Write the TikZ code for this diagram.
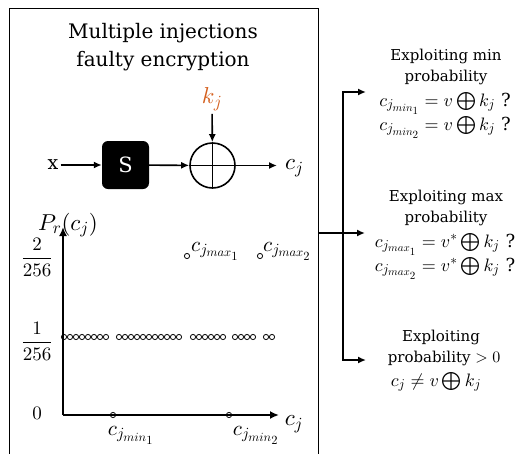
\documentclass[tikz,border=0pt]{standalone}
\usepackage{fontspec}
\setmainfont{DejaVu Serif}
\usetikzlibrary{arrows.meta}
\DeclareFontShape{OML}{cmm}{m}{it}{<->cmmi10}{}
\DeclareFontShape{OMS}{cmsy}{m}{n}{<->cmsy10}{}
\DeclareFontShape{OMX}{cmex}{m}{n}{<->cmex10}{}
\DeclareFontShape{OT1}{cmr}{m}{n}{<->cmr10}{}
\DeclareMathSizes{23}{23}{17}{13}
\DeclareMathSizes{21}{21}{15.5}{12.5}
\DeclareMathSizes{19}{19}{14}{11}
\DeclareMathSizes{18}{18}{13.5}{11}
\DeclareMathSizes{15}{16}{12}{10}
\definecolor{kor}{RGB}{212,94,28}
\tikzset{
  arr/.style={line width=1.6pt,-{Latex[length=8pt,width=7pt]}},
  axis/.style={line width=1.8pt,-{Latex[length=9pt,width=8pt]}},
  pt/.style={circle,draw,line width=0.8pt,inner sep=0pt,minimum size=5.2pt},
  ttl/.style={font=\fontsize{20}{28}\selectfont},
  big/.style={font=\fontsize{23}{26}\selectfont},
  lab/.style={font=\fontsize{21}{24}\selectfont},
  mid/.style={font=\fontsize{19}{22}\selectfont},
  rt/.style={font=\fontsize{15}{18}\selectfont,anchor=base,inner sep=0pt},
  rm/.style={font=\fontsize{18}{20}\selectfont,anchor=base,inner sep=0pt},
}
\begin{document}
\begin{tikzpicture}[x=1pt,y=-1pt]
\useasboundingbox (0,0) rectangle (517,453);
% main box
\draw[line width=1pt] (9,470) -- (9,8) -- (318,8) -- (318,470);
\node[ttl,align=center] (title) at (163,47) {Multiple injections\\faulty encryption};
% cipher
\node[big,text=kor] (kj) at (212,99) {$k_j$};
\node[fill=black,rounded corners=6pt,minimum width=47pt,minimum height=48pt,text=white,font=\fontsize{21}{24}\selectfont,inner sep=0pt] (S) at (125.5,165) {S};
\node[circle,draw,line width=1.6pt,minimum size=45pt,inner sep=0pt] (xor) at (212.5,165.5) {};
\draw[line width=1.6pt] (xor.north) -- (xor.south) (xor.west) -- (xor.east);
\node[mid,inner sep=2pt] (x) at (53,165) {x};
\node[big,inner sep=2pt,anchor=west] (cj) at (283,168) {$c_j$};
\draw[arr] (x) -- (S);
\draw[arr] (S) -- (xor);
\draw[arr] (xor.east) -- ([xshift=-6pt]cj.west |- xor.east);
\draw[arr] (kj) -- (xor);
% plot
\coordinate (O) at (63,415);
\coordinate (ytip) at (63,227);
\coordinate (xtip) at (279,415);
\draw[axis] (O) -- (ytip);
\draw[axis] (O) -- (xtip);
\node[big] (P) at (68,225) {$P_r(c_j)$};
\node[mid] (f2) at (37,257) {$\displaystyle\frac{2}{256}$};
\node[mid] (f1) at (37,341) {$\displaystyle\frac{1}{256}$};
\node[mid] (f0) at (37,413) {$0$};
\foreach \s/\n in {64/8,119/11,193/6,235/4,266/2}{
  \foreach \i in {1,...,\n}{
    \node[pt] at ({\s+6*(\i-1)},337) {};
  }
}
\node[pt] (mx1) at (187,256) {};
\node[pt] (mx2) at (260,256) {};
\node[pt] (mn1) at (113,415) {};
\node[pt] (mn2) at (229,415) {};
\node[lab,anchor=base west,inner sep=0pt] (lmx1) at (191,251) {$c_{j_{max_1}}$};
\node[lab,anchor=base west,inner sep=0pt] (lmx2) at (263,251) {$c_{j_{max_2}}$};
\node[lab,anchor=base,inner sep=0pt] (lmn1) at (131,435) {$c_{j_{min_1}}$};
\node[lab,anchor=base,inner sep=0pt] (lmn2) at (256,435) {$c_{j_{min_2}}$};
\node[big] (cjx) at (294,424) {$c_j$};
% right side
\coordinate (bR) at (318,233);
\coordinate (sp) at (343,233);
\coordinate (sT) at (343,92);
\coordinate (sB) at (343,360);
\coordinate (eM) at (365,233);
\coordinate (eT) at (366,92);
\coordinate (eB) at (366,360);
\draw[arr] (bR) -- (eM);
\draw[line width=1.6pt] (sT) -- (sB);
\draw[arr] ([xshift=-0.8pt]sT) -- (eT);
\draw[arr] ([xshift=-0.8pt]sB) -- (eB);
\node[rt] (a1) at (446,60) {Exploiting min};
\node[rt] (a2) at (446,81) {probability};
\node[rm] (a3) at (445,106) {$c_{j_{min_1}} = v \bigoplus k_j$ ?};
\node[rm] (a4) at (445,130) {$c_{j_{min_2}} = v \bigoplus k_j$ ?};
\node[rt] (b1) at (446,201) {Exploiting max};
\node[rt] (b2) at (446,222) {probability};
\node[rm] (b3) at (445,247) {$c_{j_{max_1}} = v^{*} \bigoplus k_j$ ?};
\node[rm] (b4) at (445,271) {$c_{j_{max_2}} = v^{*} \bigoplus k_j$ ?};
\node[rt] (c1) at (441,341) {Exploiting};
\node[rt] (c2) at (444,362) {probability $>0$};
\node[rm] (c3) at (436,386) {$c_j \neq v \bigoplus k_j$};
\end{tikzpicture}
\end{document}
